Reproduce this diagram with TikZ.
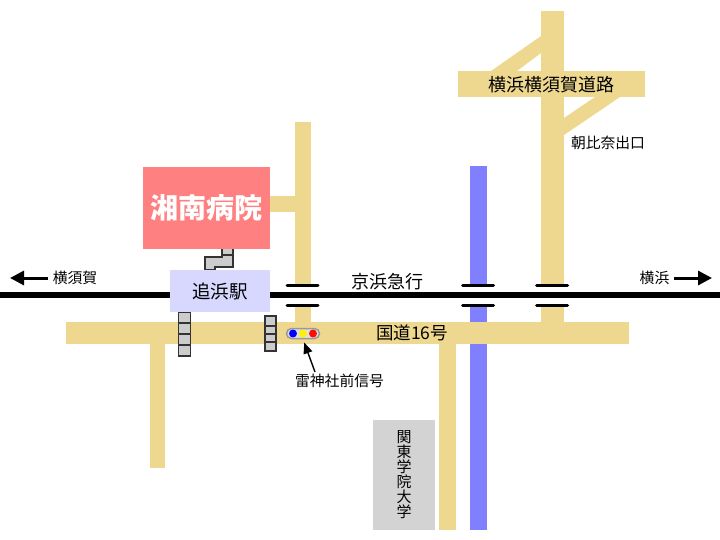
\documentclass[tikz,border=0pt]{standalone}
\usepackage{fontspec}
\usepackage{xcolor}
\setmainfont{Noto Sans CJK JP}
\definecolor{roadcolor}{HTML}{EED890}
\definecolor{rivercolor}{HTML}{8080FF}
\definecolor{hospitalcolor}{HTML}{FF8080}
\definecolor{stationcolor}{HTML}{D8D8FF}
\definecolor{stepcolor}{HTML}{CCCCCC}
\definecolor{campuscolor}{HTML}{D3D3D3}
\usetikzlibrary{arrows.meta,positioning}

\begin{document}
\begin{tikzpicture}[
        x=1pt, y=-1pt,
        road/.style={fill=roadcolor},
        river/.style={fill=rivercolor},
        rail/.style={line width=6pt},
        crossbar/.style={line width=3pt, line cap=round},
        stairs/.style={fill=stepcolor, draw=black!80, line width=1.5pt},
        label/.style={inner sep=0pt, font=\fontsize{14.8}{15}\selectfont},
        biglabel/.style={inner sep=0pt, font=\fontsize{18}{18}\selectfont},
        way/.style={line width=3pt, -{Triangle[length=14pt,width=14pt]}}]

    \useasboundingbox (0,0) rectangle (720,540);

    % river and roads
    \fill[river] (470,166) rectangle (487,530);
    \fill[road] (541,11) rectangle (564,322);
    \fill[road] (458,71) rectangle (645,97);
    \fill[road] (541,36) -- (491,71) -- (517,71) -- (541,53) -- cycle;
    \fill[road] (564,118) -- (595,97) -- (620,97) -- (564,135) -- cycle;
    \fill[road] (295,122) rectangle (311,322);
    \fill[road] (260,196) rectangle (295,212);
    \fill[road] (66,322) rectangle (629,344);
    \fill[road] (150,344) rectangle (165,468);
    \fill[road] (439,344) rectangle (456,530);

    % railway with bridges
    \foreach \cx in {302.5,478,552}
        \fill[white] (\cx-17,285) rectangle (\cx+17,306);
    \draw[rail] (0,295) -- (720,295);
    \foreach \cx in {302.5,478,552} {
        \draw[crossbar] (\cx-15.5,285.5) -- (\cx+15.5,285.5);
        \draw[crossbar] (\cx-15.5,305.5) -- (\cx+15.5,305.5);
    }

    % stairs
    \draw[stairs] (222,249) -- (222,257) -- (205,257) -- (205,270) -- (215,270)
        -- (215,267) -- (233,267) -- (233,249);
    \draw[stairs] (222,255) -- (233,255);
    \draw[stairs] (178.5,312) rectangle (190.5,356);
    \foreach \sy in {323,334,345}
        \draw[stairs] (178.5,\sy) -- (190.5,\sy);
    \draw[stairs] (265,316) rectangle (276,351);
    \foreach \sy in {326,334,342}
        \draw[stairs] (265,\sy) -- (276,\sy);

    % buildings
    \node[fill=hospitalcolor, minimum width=127pt, minimum height=82pt, inner sep=0pt,
        text=white, font=\fontsize{28}{30}\selectfont\bfseries] (hospital) at (206.5,208) {湘南病院};
    \node[fill=stationcolor, minimum width=100pt, minimum height=42pt, inner sep=0pt,
        font=\fontsize{18.5}{20}\selectfont] (station) at (220,291) {追浜駅};
    \node[fill=campuscolor, minimum width=62pt, minimum height=110pt, inner sep=0pt,
        align=center, font=\fontsize{15}{15}\selectfont] (campus) at (404,475)
        {関\\東\\学\\院\\大\\学};

    % signal
    \node[draw=black!40, fill=black!12, rounded corners=5pt, line width=1.5pt,
        minimum width=33pt, minimum height=10pt, inner sep=0pt] (signal) at (303,333.5) {};
    \fill[blue] (293,333.5) circle (4);
    \fill[yellow] (303,333.5) circle (4);
    \fill[red!90!orange] (313,333.5) circle (4);

    % labels
    \node[biglabel] (expressway) at (551.5,85) {横浜横須賀道路};
    \node[label] (exit) at (608,143) {朝比奈出口};
    \node[label] (west) at (75,278) {横須賀};
    \node[label] (east) at (654.5,278) {横浜};
    \node[biglabel] (keikyu) at (387,282) {京浜急行};
    \node[inner sep=0pt, font=\fontsize{17.5}{18}\selectfont] (route) at (412,333) {国道16号};
    \node[label] (signallabel) at (339.5,381) {雷神社前信号};

    % arrows
    \coordinate (westtail) at (48,278);
    \coordinate (westtip) at (10,278);
    \coordinate (easttail) at (674,278);
    \coordinate (easttip) at (712,278);
    \coordinate (signaltail) at (315,372);
    \draw[way] (westtail) -- (westtip);
    \draw[way] (easttail) -- (easttip);
    \draw[line width=1.4pt, -{Triangle[length=11pt,width=9pt]}, shorten >=3.5pt] (signaltail) -- (signal.south);
\end{tikzpicture}
\end{document}
